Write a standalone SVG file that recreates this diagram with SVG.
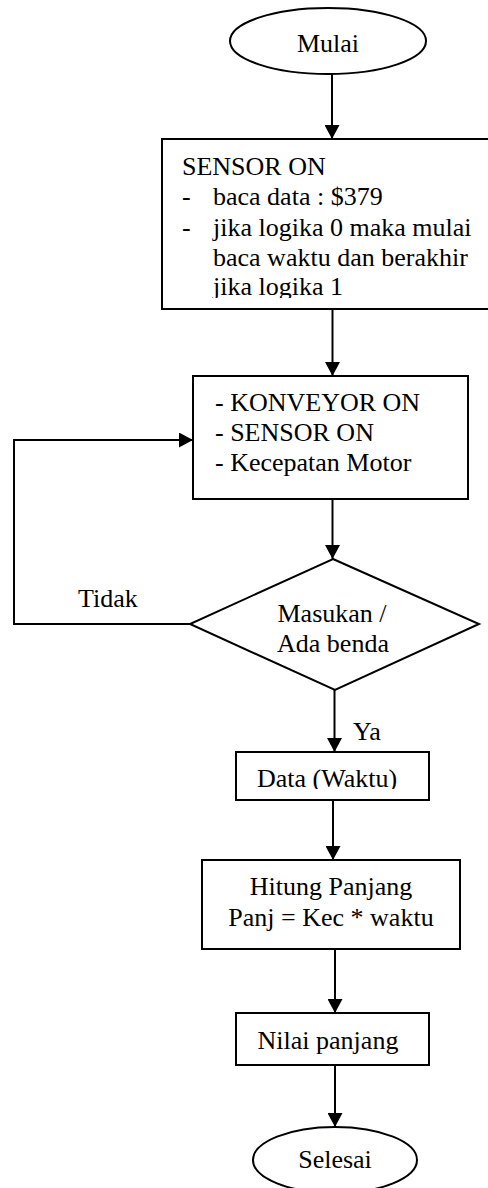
<svg xmlns="http://www.w3.org/2000/svg" width="488" height="1188" viewBox="0 0 488 1188">
  <style>
    .shape { fill: #ffffff; stroke: #000000; stroke-width: 2; }
    .link { fill: none; stroke: #000000; stroke-width: 2; }
    text { font-family: "Liberation Serif", "Times New Roman", serif; font-size: 26px; fill: #000000; }
    .mid { text-anchor: middle; }
  </style>
  <defs>
    <marker id="arrow" markerUnits="userSpaceOnUse" markerWidth="15" markerHeight="15" refX="14" refY="7.5" orient="auto">
      <path d="M0,0 L14,7.5 L0,15 z" fill="#000000"/>
    </marker>
    <!-- text frames cut off the lowest line of some boxes -->
    <clipPath id="clip-sensor"><rect x="162" y="139" width="330" height="159"/></clipPath>
    <clipPath id="clip-data"><rect x="236" y="752" width="193" height="37"/></clipPath>
  </defs>

  <g id="connectors">
    <line class="link" x1="332" y1="74" x2="332" y2="139" marker-end="url(#arrow)"/>
    <line class="link" x1="332.5" y1="309" x2="332.5" y2="376" marker-end="url(#arrow)"/>
    <line class="link" x1="332.5" y1="499" x2="332.5" y2="559" marker-end="url(#arrow)"/>
    <polyline class="link" points="190,624 14,624 14,440 193,440" marker-end="url(#arrow)"/>
    <line class="link" x1="334.5" y1="690" x2="334.5" y2="752" marker-end="url(#arrow)"/>
    <line class="link" x1="333" y1="800" x2="333" y2="860" marker-end="url(#arrow)"/>
    <line class="link" x1="335" y1="949" x2="335" y2="1013" marker-end="url(#arrow)"/>
    <line class="link" x1="335" y1="1065" x2="335" y2="1127" marker-end="url(#arrow)"/>
    <text x="78" y="607">Tidak</text>
    <text x="353" y="740">Ya</text>
  </g>

  <g id="start">
    <ellipse class="shape" cx="328" cy="41" rx="98" ry="33"/>
    <text class="mid" x="328" y="52">Mulai</text>
  </g>

  <g id="sensor">
    <rect class="shape" x="162" y="139" width="333" height="170"/>
    <g clip-path="url(#clip-sensor)">
      <text x="182" y="175">SENSOR ON</text>
      <text x="182" y="205">-</text>
      <text x="213" y="205">baca data : $379</text>
      <text x="182" y="236">-</text>
      <text x="213" y="236">jika logika 0 maka mulai</text>
      <text x="213" y="266">baca waktu dan berakhir</text>
      <text x="213" y="295">jika logika 1</text>
    </g>
  </g>

  <g id="conveyor">
    <rect class="shape" x="193" y="376" width="275" height="123"/>
    <text x="215" y="411">- KONVEYOR ON</text>
    <text x="215" y="441">- SENSOR ON</text>
    <text x="215" y="471">- Kecepatan Motor</text>
  </g>

  <g id="decision">
    <polygon class="shape" points="333,559 479,624 335,690 190,624"/>
    <text class="mid" x="332" y="622">Masukan /</text>
    <text class="mid" x="333" y="652">Ada benda</text>
  </g>

  <g id="data">
    <rect class="shape" x="236" y="752" width="193" height="48"/>
    <text x="257" y="787" clip-path="url(#clip-data)">Data (Waktu)</text>
  </g>

  <g id="compute">
    <rect class="shape" x="202" y="860" width="258" height="89"/>
    <text class="mid" x="331" y="895">Hitung Panjang</text>
    <text class="mid" x="331" y="926">Panj = Kec * waktu</text>
  </g>

  <g id="result">
    <rect class="shape" x="236" y="1013" width="193" height="52"/>
    <text class="mid" x="328" y="1049">Nilai panjang</text>
  </g>

  <g id="end">
    <ellipse class="shape" cx="335" cy="1160" rx="82" ry="33"/>
    <text class="mid" x="335" y="1168">Selesai</text>
  </g>
</svg>
